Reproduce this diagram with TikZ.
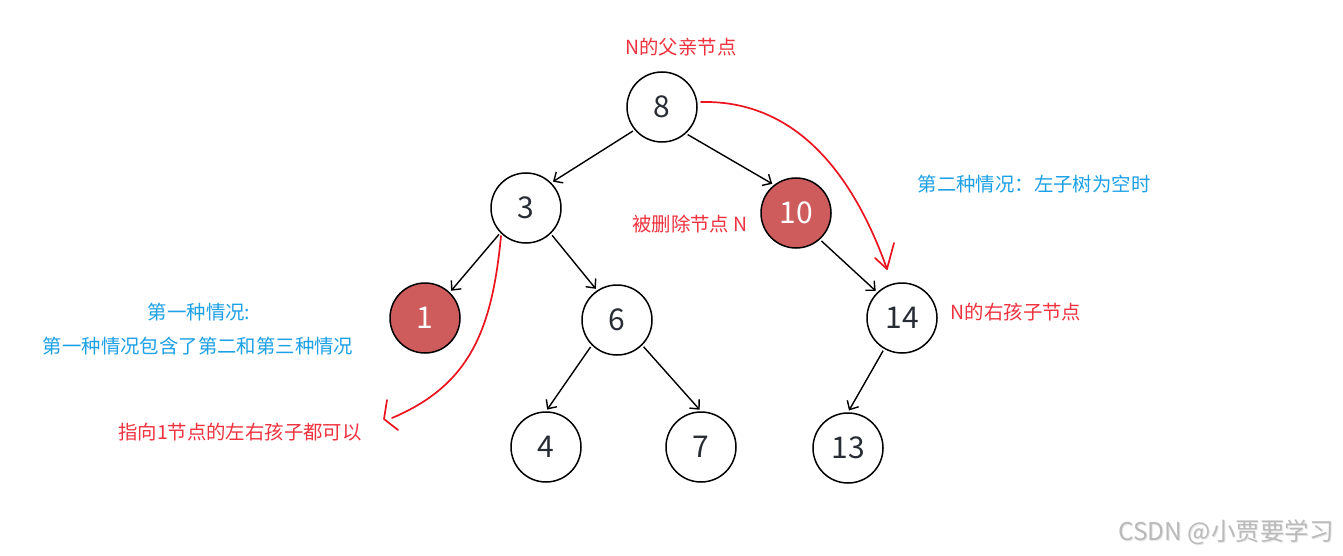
\documentclass[tikz,border=0pt]{standalone}
\usepackage{fontspec}
\setmainfont{Noto Sans CJK SC}
\usetikzlibrary{arrows.meta}
\definecolor{txtred}{RGB}{240,50,62}
\definecolor{txtblue}{RGB}{28,160,230}
\definecolor{nodered}{RGB}{206,92,92}
\definecolor{inkred}{RGB}{235,20,30}
\definecolor{digit}{RGB}{40,44,52}
\begin{document}
\begin{tikzpicture}[x=1pt,y=-1pt,
  treenode/.style={circle,draw=black,line width=1.5pt,minimum size=70pt,inner sep=0pt,
    font=\fontsize{30}{31}\selectfont,text=digit,fill=white},
  delnode/.style={treenode,fill=nodered,text=white},
  edge/.style={line width=1.4pt,-{Straight Barb[length=7pt,width=13pt,line width=1.4pt]},
    shorten <=2pt,shorten >=2pt},
  redlbl/.style={text=txtred,font=\fontsize{19.4}{21}\selectfont,inner sep=0pt},
  bluelbl/.style={text=txtblue,font=\fontsize{19.4}{21}\selectfont,inner sep=0pt},
  ink/.style={draw=inkred,line width=1.7pt,line cap=round,line join=round}]
\useasboundingbox[fill=white] (0,0) rectangle (1343,556);

% tree nodes
\node[treenode] (n8)  at (662,107) {8};
\node[treenode] (n3)  at (526,208) {3};
\node[delnode]  (n10) at (796,213) {10};
\node[delnode]  (n1)  at (425,318) {1};
\node[treenode] (n6)  at (617,320) {6};
\node[treenode] (n14) at (902,318) {14};
\node[treenode] (n4)  at (546,447) {4};
\node[treenode] (n7)  at (701,447) {7};
\node[treenode] (n13) at (848,448) {13};

% edges
\draw[edge] (n8.220) -- (n3.45);
\draw[edge] (n8.312) -- (n10.128);
\draw[edge] (n3.224) -- (n1.46);
\draw[edge] (n3.314) -- (n6.124);
\draw[edge] (n10.312) -- (n14.134);
\draw[edge] (n6.225) -- (n4.north);
\draw[edge] (n6.315) -- (n7.north);
\draw[edge] (n14.240) -- (n13.north);

% labels
\node[redlbl]  (lparent) at (681,47)  {N的父亲节点};
\node[bluelbl] (lcase2)  at (1034,184) {第二种情况：左子树为空时};
\node[redlbl]  (ldel)    at (690,224) {被删除节点 N};
\node[redlbl]  (lright)  at (1016,312) {N的右孩子节点};
\node[bluelbl] (lcase1a) at (199,312) {第一种情况:};
\node[bluelbl] (lcase1b) at (198,346) {第一种情况包含了第二和第三种情况};
\node[redlbl]  (lpoint)  at (240,432) {指向1节点的左右孩子都可以};

% hand-drawn red arrows
\coordinate (c1s) at (701,102);
\coordinate (c1e) at (887,269);
\draw[ink] (c1s) .. controls (790,100) and (850,165) .. (c1e);
\draw[ink] (875,258) -- (c1e) -- (894,243);

\coordinate (c2s) at (501,236);
\coordinate (c2e) at (392,418);
\draw[ink] (c2s) .. controls (492,330) and (470,385) .. (c2e);
\draw[ink] (387,400) -- (384,419) -- (398,430);

% watermark
\node[text=black!10,font=\fontsize{24.5}{26}\selectfont,inner sep=0pt] (wms) at (1227,533) {CSDN @小贾要学习};
\node[text=black!27,font=\fontsize{24.5}{26}\selectfont,inner sep=0pt] (wm) at (1226,532) {CSDN @小贾要学习};
\end{tikzpicture}
\end{document}
